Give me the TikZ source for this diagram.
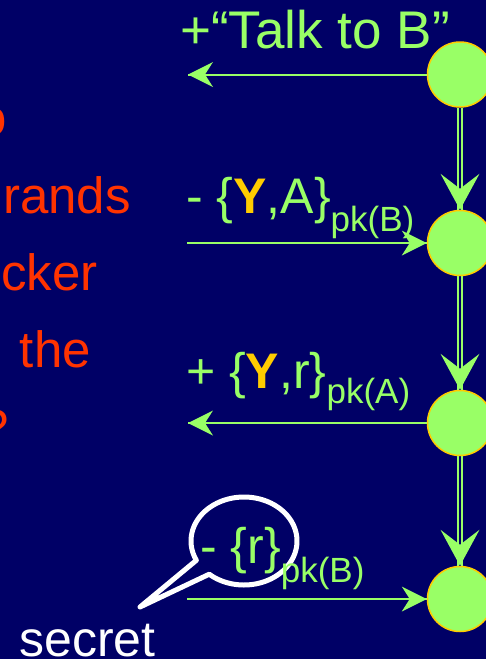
\documentclass[tikz,border=0pt]{standalone}
\usepackage{fontspec}
\setmainfont{Liberation Sans}
\definecolor{navy}{RGB}{0,0,102}
\definecolor{lgreen}{RGB}{153,255,102}
\definecolor{gold}{RGB}{255,204,0}
\definecolor{redt}{RGB}{255,51,0}
\begin{document}
\begin{tikzpicture}[x=1pt,y=-1pt,
  stnode/.style={circle, minimum size=65pt, inner sep=0pt, fill=lgreen, draw=gold, line width=1.5pt},
  lab/.style={anchor=base west, inner sep=0pt, text=lgreen, font=\fontsize{50}{50}\selectfont},
  redtxt/.style={anchor=base east, inner sep=0pt, text=redt, font=\fontsize{51}{51}\selectfont},
  shaft/.style={lgreen, line width=2pt},
  headfill/.style={fill=lgreen}]
\useasboundingbox (0,0) rectangle (486,659);
\fill[navy] (0,0) rectangle (486,659);
\clip (0,0) rectangle (486,659);

% red text (cut at the left edge)
\node[redtxt] (r0) at (7,135) {o};
\node[redtxt] (r1) at (131,213) {rands};
\node[redtxt] (r2) at (98,290) {cker};
\node[redtxt] (r3) at (91,367) {the};
\node[redtxt] (r4) at (9.5,445) {?};

% strand nodes
\node[stnode] (c1) at (460,74.5) {};
\node[stnode] (c2) at (460,243) {};
\node[stnode] (c3) at (460,423) {};
\node[stnode] (c4) at (460,599) {};

% double vertical arrows
\foreach \a/\b in {c1/c2, c2/c3, c3/c4}{
  \draw[shaft] ([xshift=-2pt]\a.south) -- ([xshift=-2pt]\b.north);
  \draw[shaft] ([xshift=2pt]\a.south) -- ([xshift=2pt]\b.north);
  \fill[headfill] (\b.north) -- ++(-19.5,-36) -- ++(19.5,15) -- ++(19.5,-15) -- cycle;
}

% horizontal arrows
\coordinate (e1) at (188,74.5);
\coordinate (s2) at (187,243);
\coordinate (e3) at (188,423);
\coordinate (s4) at (187,599);
\draw[shaft] (c1.west) -- (e1);
\fill[headfill] (e1) -- ++(25,-12.5) -- ++(-8,12.5) -- ++(8,12.5) -- cycle;
\draw[shaft] (s2) -- (c2.west);
\fill[headfill] (c2.west) -- ++(-25,-12.5) -- ++(8,12.5) -- ++(-8,12.5) -- cycle;
\draw[shaft] (c3.west) -- (e3);
\fill[headfill] (e3) -- ++(25,-12.5) -- ++(-8,12.5) -- ++(8,12.5) -- cycle;
\draw[shaft] (s4) -- (c4.west);
\fill[headfill] (c4.west) -- ++(-25,-12.5) -- ++(8,12.5) -- ++(-8,12.5) -- cycle;

% labels
\node[lab, font=\fontsize{53}{53}\selectfont] (l1) at (180,48) {+“Talk to B”};
\node[lab] (l2) at (186,213) {- \{\textcolor{gold}{\textbf{Y}},A\}\raisebox{-18pt}{\fontsize{35}{35}\selectfont pk(B)}};
\node[lab] (l3) at (186,388) {+ \{\textcolor{gold}{\textbf{Y}},r\}\raisebox{-15pt}{\fontsize{35}{35}\selectfont pk(A)}};

% speech bubble
\draw[white, line width=5pt, line join=round]
  plot[domain=154:491, samples=100] ({244+53*cos(\x)}, {541+44*sin(\x)}) -- (140,607) -- cycle;
\node[lab] (l4) at (200,563) {- \{r\}\raisebox{-19pt}{\fontsize{35}{35}\selectfont pk(B)}};

\node[anchor=base west, inner sep=0pt, text=white, font=\fontsize{50}{50}\selectfont] (sec) at (19,656) {secret};
\end{tikzpicture}
\end{document}
